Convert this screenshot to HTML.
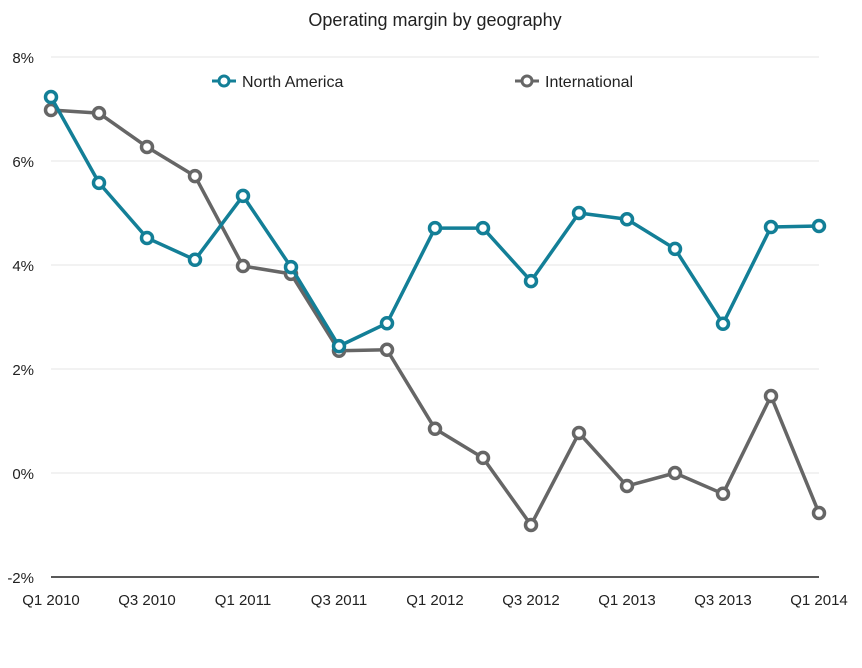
<!DOCTYPE html>
<html><head><meta charset="utf-8"><style>
html,body{margin:0;padding:0;background:#fff;}
svg{display:block;font-family:"Liberation Sans",sans-serif;}
</style></head><body>
<svg id="chart" width="862" height="668" viewBox="0 0 862 668">
<text x="435" y="26" text-anchor="middle" font-size="18" fill="#222">Operating margin by geography</text>
<g id="grid"></g>
<g id="yaxis"></g>
<g id="xaxis"></g>
<g id="series"></g>
<g>
<g>
<line x1="212" y1="81" x2="236" y2="81" stroke="#137f97" stroke-width="3"/>
<circle cx="224" cy="81" r="5" fill="#fff" stroke="#137f97" stroke-width="3"/>
<text x="242" y="87" font-size="16" fill="#222">North America</text></g>
<g>
<line x1="515" y1="81" x2="539" y2="81" stroke="#666" stroke-width="3"/>
<circle cx="527" cy="81" r="5" fill="#fff" stroke="#666" stroke-width="3"/>
<text x="545" y="87" font-size="16" fill="#222">International</text></g>
</g>
</svg>
<script>
const categories=["Q1 2010","Q2 2010","Q3 2010","Q4 2010","Q1 2011","Q2 2011","Q3 2011","Q4 2011","Q1 2012","Q2 2012","Q3 2012","Q4 2012","Q1 2013","Q2 2013","Q3 2013","Q4 2013","Q1 2014"];
const northAmerica=[7.23,5.58,4.52,4.10,5.33,3.96,2.44,2.88,4.71,4.71,3.69,5.0,4.88,4.31,2.87,4.73,4.75];
const international=[6.98,6.92,6.27,5.71,3.98,3.83,2.35,2.37,0.85,0.29,-1.0,0.77,-0.25,0.0,-0.40,1.48,-0.77];
const yTicks=[-2,0,2,4,6,8];
const xLabelIdx=[0,2,4,6,8,10,12,14,16];

const NS="http://www.w3.org/2000/svg";
const x0=51,x1=819,yTop=57,yBot=577,yMin=-2,yMax=8;
const xs=i=>x0+(x1-x0)*i/(categories.length-1);
const ys=v=>yBot-(v-yMin)/(yMax-yMin)*(yBot-yTop);
function mk(tag,attrs,parent){const e=document.createElementNS(NS,tag);for(const k in attrs)e.setAttribute(k,attrs[k]);parent.appendChild(e);return e;}
const grid=document.getElementById('grid'),ya=document.getElementById('yaxis'),xa=document.getElementById('xaxis'),ser=document.getElementById('series');
yTicks.forEach(t=>{
  const y=ys(t);
  if(t!==yMin){const l=mk('line',{x1:x0,x2:x1,y1:y,y2:y,stroke:'#e6e6e6','stroke-width':1},grid);
  
  }
  const tx=mk('text',{x:34,y:y+6,'text-anchor':'end','font-size':15,fill:'#222'},ya);tx.textContent=t+'%';
  
  
});
const base=mk('line',{x1:x0,x2:x1,y1:yBot,y2:yBot,stroke:'#222','stroke-width':1.5},xa);


xLabelIdx.forEach(i=>{
  const tx=mk('text',{x:xs(i),y:605,'text-anchor':'middle','font-size':15,fill:'#222'},xa);tx.textContent=categories[i];
  
  
});
function drawSeries(vals,color,name){
  const g=mk('g',{},ser);
  
  
  const p=mk('polyline',{points:vals.map((v,i)=>xs(i)+','+ys(v)).join(' '),fill:'none',stroke:color,'stroke-width':3.5,'stroke-linejoin':'round'},g);
  
  
  vals.forEach((v,i)=>{
    const c=mk('circle',{cx:xs(i),cy:ys(v),r:5.5,fill:'#fff',stroke:color,'stroke-width':3.5},g);
    
    
  });
}
drawSeries(international,'#666666','international');
drawSeries(northAmerica,'#137f97','north-america');
</script>
</body></html>
